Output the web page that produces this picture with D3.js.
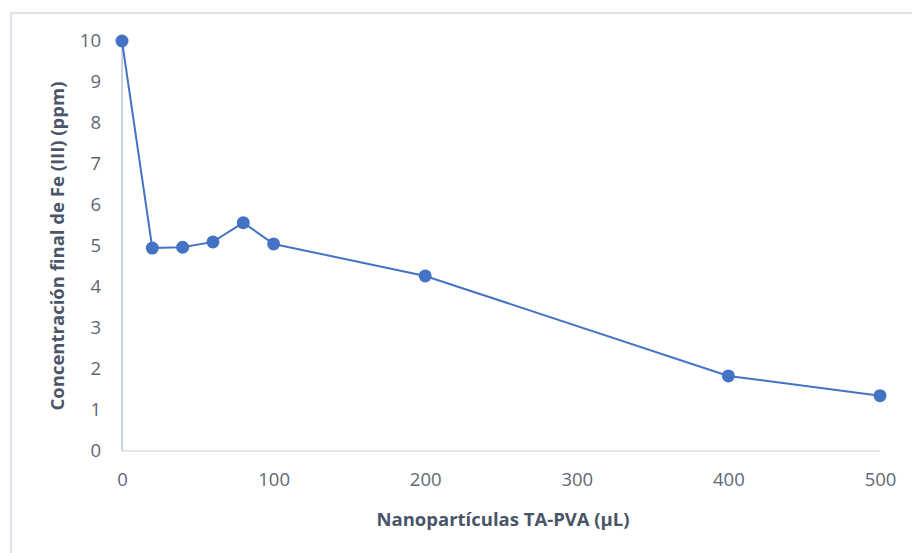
<!DOCTYPE html>
<html><head><meta charset="utf-8">
<script src="https://cdn.jsdelivr.net/npm/d3@7"></script>
<style>body{margin:0;background:#fff}svg{display:block}</style>
</head><body>
<svg id="c" width="912" height="553"></svg>
<script>
const xValues = [0, 20, 40, 60, 80, 100, 200, 400, 500];
const yValues = [10, 4.95, 4.97, 5.1, 5.57, 5.05, 4.27, 1.83, 1.35];
const xTicks = [0, 100, 200, 300, 400, 500];
const yTicks = [0, 1, 2, 3, 4, 5, 6, 7, 8, 9, 10];
const xTitle = "Nanopartículas TA-PVA (µL)";
const yTitle = "Concentración final de Fe (III) (ppm)";

const svg = d3.select("#c");
const font = "'Open Sans', 'Liberation Sans', sans-serif";
// frame
svg.append("rect").attr("x", 11).attr("y", 13).attr("width", 920).attr("height", 560)
  .attr("fill", "none").attr("stroke", "#dde2ea").attr("stroke-width", 2);

const x = d3.scaleLinear().domain([0, 500]).range([122, 880]);
const y = d3.scaleLinear().domain([0, 10]).range([451, 41]);

// x axis line
svg.append("line").attr("x1", x(0)).attr("x2", x(500)).attr("y1", y(0)).attr("y2", y(0))
  .attr("stroke", "#dadde2").attr("stroke-width", 1.5);
// y axis line
svg.append("line").attr("x1", x(0)).attr("x2", x(0)).attr("y1", y(0)).attr("y2", y(10))
  .attr("stroke", "#b8c3d3").attr("stroke-width", 1.5);

const xAxis = d3.axisBottom(x).tickValues(xTicks).tickSize(0).tickPadding(0);
const gx = svg.append("g").attr("transform", `translate(0,${y(0)+22})`).call(xAxis);
gx.select(".domain").remove();
gx.selectAll("text").attr("font-family", font).attr("font-size", 18.5).attr("fill", "#5f6776").attr("dy", "0.71em").attr("y", 0);

const yAxis = d3.axisLeft(y).tickValues(yTicks).tickSize(0).tickPadding(0);
const gy = svg.append("g").attr("transform", `translate(${x(0)-21},0)`).call(yAxis);
gy.select(".domain").remove();
gy.selectAll("text").attr("font-family", font).attr("font-size", 18.5).attr("fill", "#5f6776").attr("x", 0);

// titles
svg.append("text").attr("x", 503).attr("y", 526).attr("text-anchor", "middle")
  .attr("font-family", font).attr("font-weight", "bold").attr("font-size", 18.5)
  .attr("fill", "#4a5568").text(xTitle);
svg.append("text").attr("transform", "translate(64,246) rotate(-90)").attr("text-anchor", "middle")
  .attr("font-family", font).attr("font-weight", "bold").attr("font-size", 18.5)
  .attr("fill", "#4a5568").text(yTitle);

const data = xValues.map((v, i) => ({x: v, y: yValues[i]}));
svg.append("path").datum(data)
  .attr("d", d3.line().x(d => x(d.x)).y(d => y(d.y)))
  .attr("fill", "none").attr("stroke", "#4472c4").attr("stroke-width", 2);
svg.selectAll("circle.pt").data(data).join("circle").attr("class", "pt")
  .attr("cx", d => x(d.x)).attr("cy", d => y(d.y)).attr("r", 6.5)
  .attr("fill", "#4472c4");
</script>
</body></html>
